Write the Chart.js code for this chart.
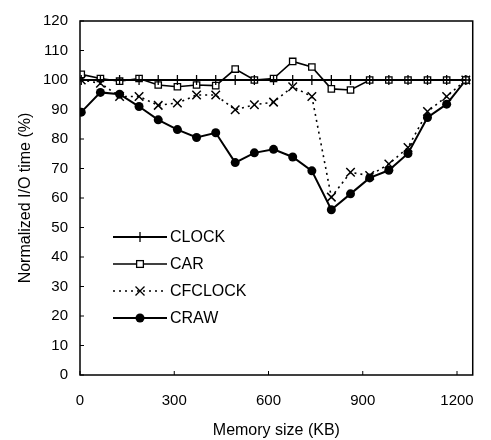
<!DOCTYPE html>
<html>
<head>
<meta charset="utf-8">
<script src="https://cdn.jsdelivr.net/npm/chart.js@4/dist/chart.umd.min.js"></script>
<style>
  html, body { margin: 0; padding: 0; background: #fff; }
  #wrap { width: 491px; height: 440px; }
</style>
</head>
<body>
<div id="wrap"><canvas id="ioChart"></canvas></div>
<script>
// Memory sizes (KB) sampled in the experiment
const memorySizes = [4, 65, 126, 188, 249, 310, 371, 432, 494, 555, 616, 677, 738, 800, 861, 922, 983, 1044, 1106, 1167, 1228];

// Normalized I/O time (%) per policy
const clockTime   = [100, 100, 100, 100, 100, 100, 100, 100, 100, 100, 100, 100, 100, 100, 100, 100, 100, 100, 100, 100, 100];
const carTime     = [101.9, 100.5, 99.6, 100.5, 98.3, 97.7, 98.3, 98.1, 103.7, 100, 100.5, 106.3, 104.4, 97, 96.6, 100, 100, 100, 100, 100, 100];
const cfclockTime = [100, 98.9, 94.4, 94.4, 91.4, 92.2, 94.9, 94.9, 89.9, 91.6, 92.5, 97.7, 94.4, 60.3, 68.7, 67.6, 71.5, 77.1, 89.3, 94.4, 100];
const crawTime    = [89.1, 95.8, 95.2, 91, 86.5, 83.2, 80.5, 82.1, 72, 75.3, 76.5, 73.9, 69.2, 56, 61.4, 66.8, 69.4, 75.1, 87.3, 91.8, 100];

const seriesNames = ['CLOCK', 'CAR', 'CFCLOCK', 'CRAW'];
const xTickValues = [0, 300, 600, 900, 1200];

const toPoints = arr => arr.map((v, i) => ({ x: memorySizes[i], y: v }));
const FONT = 'Liberation Sans, Arial, Helvetica, sans-serif';

// box around the plot + small inward tick marks
const frame = {
    id: 'frame',
    afterDraw(chart) {
        const { ctx, chartArea: a, scales } = chart;
        ctx.save();
        ctx.strokeStyle = '#000';
        ctx.lineWidth = 1.5;
        ctx.strokeRect(a.left, a.top, a.right - a.left, a.bottom - a.top);
        ctx.lineWidth = 1;
        ctx.beginPath();
        scales.y.ticks.forEach(t => {
            const y = scales.y.getPixelForValue(t.value);
            ctx.moveTo(a.left, y);
            ctx.lineTo(a.left + 4, y);
        });
        scales.x.ticks.forEach(t => {
            const x = scales.x.getPixelForValue(t.value);
            ctx.moveTo(x, a.bottom);
            ctx.lineTo(x, a.bottom - 4);
        });
        ctx.stroke();
        ctx.restore();
    }
};

// legend drawn inside the plot, lower left
function drawMarker(ctx, style, x, y, r) {
    ctx.beginPath();
    if (style === 'cross') {
        ctx.moveTo(x - r, y); ctx.lineTo(x + r, y);
        ctx.moveTo(x, y - r); ctx.lineTo(x, y + r);
        ctx.stroke();
    } else if (style === 'crossRot') {
        const d = r * 0.75;
        ctx.moveTo(x - d, y - d); ctx.lineTo(x + d, y + d);
        ctx.moveTo(x + d, y - d); ctx.lineTo(x - d, y + d);
        ctx.stroke();
    } else if (style === 'rect') {
        ctx.fillStyle = '#fff';
        ctx.fillRect(x - r * 0.75, y - r * 0.75, r * 1.5, r * 1.5);
        ctx.strokeRect(x - r * 0.75, y - r * 0.75, r * 1.5, r * 1.5);
    } else {
        ctx.fillStyle = '#000';
        ctx.arc(x, y, r, 0, Math.PI * 2);
        ctx.fill();
    }
}

const innerLegend = {
    id: 'innerLegend',
    afterDraw(chart) {
        const ctx = chart.ctx;
        ctx.save();
        ctx.font = '16px ' + FONT;
        ctx.textBaseline = 'middle';
        ctx.fillStyle = '#000';
        chart.data.datasets.forEach((ds, i) => {
            const y = 237 + i * 27;
            ctx.strokeStyle = '#000';
            ctx.lineWidth = ds.borderWidth;
            ctx.setLineDash(ds.borderDash || []);
            ctx.beginPath();
            ctx.moveTo(113, y);
            ctx.lineTo(167, y);
            ctx.stroke();
            ctx.setLineDash([]);
            ctx.lineWidth = 1.3;
            drawMarker(ctx, ds.pointStyle, 140, y, ds.pointRadius);
            ctx.fillStyle = '#000';
            ctx.fillText(ds.label, 170, y + 1);
        });
        ctx.restore();
    }
};

const ctx1 = document.getElementById('ioChart').getContext('2d');
new Chart(ctx1, {
    type: 'line',
    data: {
        datasets: [
            {
                label: seriesNames[0],
                data: toPoints(clockTime),
                borderColor: '#000',
                borderWidth: 2,
                pointStyle: 'cross',
                pointRadius: 5,
                pointBorderColor: '#000',
                pointBorderWidth: 1.3
            },
            {
                label: seriesNames[1],
                data: toPoints(carTime),
                borderColor: '#000',
                borderWidth: 1.6,
                pointStyle: 'rect',
                pointRadius: 4.5,
                pointBackgroundColor: '#fff',
                pointBorderColor: '#000',
                pointBorderWidth: 1.3
            },
            {
                label: seriesNames[2],
                data: toPoints(cfclockTime),
                borderColor: '#000',
                borderWidth: 1.6,
                borderDash: [2, 4],
                pointStyle: 'crossRot',
                pointRadius: 6,
                pointBorderColor: '#000',
                pointBorderWidth: 1.5
            },
            {
                label: seriesNames[3],
                data: toPoints(crawTime),
                borderColor: '#000',
                borderWidth: 2,
                pointStyle: 'circle',
                pointRadius: 4.5,
                pointBackgroundColor: '#000',
                pointBorderColor: '#000',
                pointBorderWidth: 0
            }
        ]
    },
    options: {
        responsive: true,
        maintainAspectRatio: false,
        animation: false,
        layout: {
            padding: { left: 16, right: 6, top: 17, bottom: 0 }
        },
        plugins: {
            legend: { display: false },
            tooltip: { enabled: false }
        },
        scales: {
            x: {
                type: 'linear',
                min: 0,
                max: 1250,
                afterBuildTicks: s => { s.ticks = xTickValues.map(v => ({ value: v })); },
                afterFit: s => { s.height = 65; },
                grid: { display: false, drawTicks: false },
                border: { display: false },
                ticks: {
                    padding: 17,
                    color: '#000',
                    font: { family: FONT, size: 15 },
                    callback: v => String(v)
                },
                title: {
                    display: true,
                    text: 'Memory size (KB)',
                    color: '#000',
                    padding: { top: 10, bottom: 0 },
                    font: { family: FONT, size: 16 }
                }
            },
            y: {
                min: 0,
                max: 120,
                afterFit: s => { s.width = 64; },
                grid: { display: false, drawTicks: false },
                border: { display: false },
                ticks: {
                    stepSize: 10,
                    padding: 12,
                    color: '#000',
                    font: { family: FONT, size: 15 }
                },
                title: {
                    display: true,
                    text: 'Normalized I/O time (%)',
                    color: '#000',
                    padding: { top: 0, bottom: 4 },
                    font: { family: FONT, size: 16 }
                }
            }
        }
    },
    plugins: [frame, innerLegend]
});
</script>
</body>
</html>
